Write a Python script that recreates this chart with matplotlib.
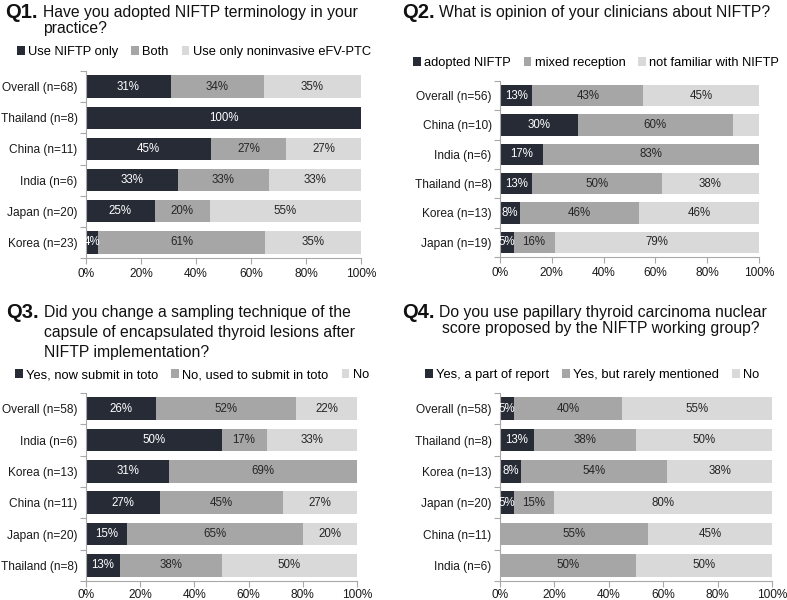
import numpy as np
import matplotlib
matplotlib.use("Agg")
import matplotlib.pyplot as plt
from matplotlib.patches import Patch

plt.rcParams['font.family'] = ['Liberation Sans', 'DejaVu Sans']

# ---------------- data (response counts per group) ----------------
q1_cats = ["Overall (n=68)", "Thailand (n=8)", "China (n=11)", "India (n=6)", "Japan (n=20)", "Korea (n=23)"]
q1_n = [68, 8, 11, 6, 20, 23]
q1_use_niftp = [21, 8, 5, 2, 5, 1]
q1_both = [23, 0, 3, 2, 4, 14]
q1_eFV = [24, 0, 3, 2, 11, 8]
q1_legend = ["Use NIFTP only", "Both", "Use only noninvasive eFV-PTC"]

q2_cats = ["Overall (n=56)", "China (n=10)", "India (n=6)", "Thailand (n=8)", "Korea (n=13)", "Japan (n=19)"]
q2_n = [56, 10, 6, 8, 13, 19]
q2_adopted = [7, 3, 1, 1, 1, 1]
q2_mixed = [24, 6, 5, 4, 6, 3]
q2_notfam = [25, 1, 0, 3, 6, 15]
q2_legend = ["adopted NIFTP", "mixed reception", "not familiar with NIFTP"]
q2_hidden = [(1, 2)]  # unlabeled segment (China, not familiar)

q3_cats = ["Overall (n=58)", "India (n=6)", "Korea (n=13)", "China (n=11)", "Japan (n=20)", "Thailand (n=8)"]
q3_n = [58, 6, 13, 11, 20, 8]
q3_yes = [15, 3, 4, 3, 3, 1]
q3_used = [30, 1, 9, 5, 13, 3]
q3_no = [13, 2, 0, 3, 4, 4]
q3_legend = ["Yes, now submit in toto", "No, used to submit in toto", "No"]

q4_cats = ["Overall (n=58)", "Thailand (n=8)", "Korea (n=13)", "Japan (n=20)", "China (n=11)", "India (n=6)"]
q4_n = [58, 8, 13, 20, 11, 6]
q4_part = [3, 1, 1, 1, 0, 0]
q4_rare = [23, 3, 7, 3, 6, 3]
q4_no = [32, 4, 5, 16, 5, 3]
q4_legend = ["Yes, a part of report", "Yes, but rarely mentioned", "No"]

x_ticks = [0, 20, 40, 60, 80, 100]

COLORS = ["#262b36", "#a6a6a6", "#d9d9d9"]
SPINE = "#a8a8a8"
W, H = 787, 600

fig = plt.figure(figsize=(W / 100, H / 100), dpi=100)
fig.patch.set_facecolor("white")


def px_axes(l, t, r, b):
    return fig.add_axes([l / W, 1 - b / H, (r - l) / W, (b - t) / H])


def panel(ax, cats, ns, series, hidden=(), xpad=3):
    counts = np.array(series, dtype=float).T  # rows: categories
    ns = np.array(ns, dtype=float)
    pct = counts / ns[:, None] * 100
    y = np.arange(len(cats))
    left = np.zeros(len(cats))
    for j in range(pct.shape[1]):
        ax.barh(y, pct[:, j], left=left, height=0.72, color=COLORS[j], linewidth=0)
        for i in range(len(cats)):
            if counts[i, j] > 0 and (i, j) not in hidden:
                lab = f"{int(np.floor(pct[i, j] + 0.5))}%"
                ax.text(left[i] + pct[i, j] / 2, y[i], lab, ha="center", va="center",
                        fontsize=8.3, color="white" if j == 0 else "#262626")
        left += pct[:, j]
    ax.set_xlim(0, 100)
    ax.set_ylim(len(cats) - 0.5, -0.5)
    ax.set_yticks(y)
    ax.set_yticklabels(cats, fontsize=8.6, color="#1a1a1a")
    ax.tick_params(axis="y", which="major", length=0, pad=6)
    ax.set_yticks(np.arange(len(cats) + 1) - 0.5, minor=True)
    ax.tick_params(axis="y", which="minor", length=4, color=SPINE, width=0.8)
    ax.set_xticks(x_ticks)
    ax.set_xticklabels([f"{t}%" for t in x_ticks], fontsize=8.6, color="#1a1a1a")
    ax.tick_params(axis="x", length=4, color=SPINE, width=0.8, pad=xpad)
    for s in ["top", "right"]:
        ax.spines[s].set_visible(False)
    for s in ["left", "bottom"]:
        ax.spines[s].set_color(SPINE)
        ax.spines[s].set_linewidth(0.8)


def legend(labels, cx, cy):
    handles = [Patch(facecolor=c, edgecolor="none") for c in COLORS]
    fig.legend(handles, labels, loc="center", bbox_to_anchor=(cx / W, 1 - cy / H), ncol=3,
               frameon=False, fontsize=9.3, handlelength=0.6, handleheight=0.6,
               handletextpad=0.25, columnspacing=1.0, borderpad=0)


def title(qx, tx, ty, q, lines, spacing):
    fig.text(qx / W, 1 - ty / H, q, fontsize=14.5, fontweight="bold", va="center", ha="left", color="#111111")
    for k, line in enumerate(lines):
        x = tx[k] if isinstance(tx, (list, tuple)) else tx
        fig.text(x / W, 1 - (ty + k * spacing) / H, line, fontsize=11.3, va="center", ha="left", color="#111111")


ax1 = px_axes(86, 71, 361, 258)
panel(ax1, q1_cats, q1_n, [q1_use_niftp, q1_both, q1_eFV])
ax2 = px_axes(500, 81, 759, 257)
panel(ax2, q2_cats, q2_n, [q2_adopted, q2_mixed, q2_notfam], hidden=q2_hidden)
ax3 = px_axes(86, 393, 357, 581)
panel(ax3, q3_cats, q3_n, [q3_yes, q3_used, q3_no], xpad=2)
ax4 = px_axes(500, 393, 772, 581)
panel(ax4, q4_cats, q4_n, [q4_part, q4_rare, q4_no], xpad=2)

legend(q1_legend, 194, 52)
legend(q2_legend, 596, 63)
legend(q3_legend, 192, 375)
legend(q4_legend, 592, 375)

title(5, 43, 13, "Q1.", ["Have you adopted NIFTP terminology in your", "practice?"], 15)
title(402, 439, 13, "Q2.", ["What is opinion of your clinicians about NIFTP?"], 15)
title(6, 44, 313, "Q3.", ["Did you change a sampling technique of the",
                          "capsule of encapsulated thyroid lesions after",
                          "NIFTP implementation?"], 19.5)
title(402, [439, 442], 313, "Q4.", ["Do you use papillary thyroid carcinoma nuclear",
                                    "score proposed by the NIFTP working group?"], 15)

fig.savefig("out.png", dpi=100, facecolor="white")
